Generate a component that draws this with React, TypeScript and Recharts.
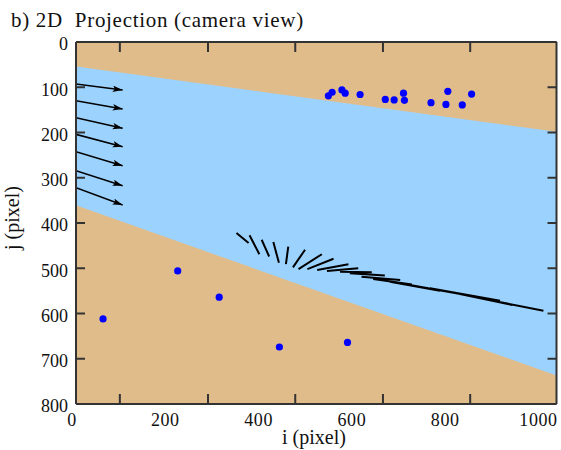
import React from 'react';
import { ComposedChart, XAxis, YAxis, Line, Area, Scatter, CartesianGrid } from 'recharts';

const FONT = '"Liberation Serif", "Times New Roman", Times, serif';
const TAN = '#E1BC8B';
const SKY = '#9CD3FE';
const DOT = '#0000FF';
const AXIS = '#333333';

// axes
const xDomain = [0, 1030];
const yDomain = [0, 800];
const xTickLabels = [0, 200, 400, 600, 800, 1000];
const xTickMarks = [94, 283, 470, 658, 845];
const yTickLabels = [0, 100, 200, 300, 400, 500, 600, 700, 800];

// visible band (camera field)
const bandI = [0, 1030];
const bandTopJ = [54, 198.5];
const bandBottomJ = [361, 737];

// arrows on the left
const arrowStartI = [0, 0, 0, 0, 0, 0, 0];
const arrowEndI = [100, 100, 100, 100, 100, 100, 100];
const arrowStartJ = [92.8, 129.7, 167.3, 204, 242.4, 284.4, 322];
const arrowEndJ = [106.1, 148.1, 190.7, 231.3, 273.4, 317.6, 360.2];

// fan of projected segments
const segStartI = [344, 372, 398, 423, 455, 491, 527, 552, 584, 605, 634, 662, 695, 720, 780, 845, 909, 935, 1002];
const segStartJ = [422, 427, 437, 442, 452, 459, 469, 479, 491, 500, 509, 516, 526, 536, 550, 561, 572, 581, 594];
const segEndI = [370, 393, 414, 435, 450, 465, 477, 496, 517, 538, 566, 587, 612, 637, 673, 716, 759, 823, 866];
const segEndJ = [444, 469, 474, 488, 491, 498, 502, 502, 504, 506, 508, 511, 519, 524, 530, 537, 544, 557, 566];

// blue points
const dotI = [541, 549, 570, 577, 609, 663, 682, 702, 704, 761, 793, 797, 828, 848, 58, 218, 307, 436, 582];
const dotJ = [119, 111, 106, 113, 116, 127, 128, 113, 129, 134, 138, 109, 139, 115, 612, 506, 564, 674, 664];

const bandData = bandI.map((i, k) => ({ i, band: [bandTopJ[k], bandBottomJ[k]] }));
const arrowData = arrowStartJ.map((s, k) => [
  { i: arrowStartI[k], j: s },
  { i: arrowEndI[k], j: arrowEndJ[k] },
]);
const segData: { i: number; j: number | null }[] = [];
segStartI.forEach((s, k) => {
  segData.push({ i: s, j: segStartJ[k] });
  segData.push({ i: segEndI[k], j: segEndJ[k] });
  segData.push({ i: segEndI[k], j: null });
});
const dotData = dotI.map((i, k) => ({ i, j: dotJ[k] }));

const XTick = (props: any) => {
  const { x, y, payload } = props;
  return (
    <text x={x - 4} y={y} dy="0.71em" textAnchor="middle" fontFamily={FONT} fontSize={18} fill="#111" letterSpacing={0.6}>
      {payload.value}
    </text>
  );
};

const YTick = (props: any) => {
  const { x, y, payload } = props;
  return (
    <text x={x} y={y + 2} dy="0.355em" textAnchor="end" fontFamily={FONT} fontSize={18} fill="#111">
      {payload.value}
    </text>
  );
};

const NoTick = () => <g />;

const DotShape = (props: any) => <circle cx={props.cx} cy={props.cy} r={3.6} fill={DOT} />;

const markLine = { stroke: AXIS, strokeWidth: 2 };

export default function App() {
  return (
    <div style={{ position: 'absolute', left: 0, top: 0, width: 561, height: 450 }}>
      <ComposedChart width={561} height={450} margin={{ top: 42, right: 4.5, bottom: 0, left: 0 }}>
        <CartesianGrid fill={TAN} horizontal={false} vertical={false} stroke="none" />
        <Area
          data={bandData}
          dataKey="band"
          type="linear"
          fill={SKY}
          fillOpacity={1}
          stroke="none"
          isAnimationActive={false}
          activeDot={false}
        />
        {arrowData.map((d, k) => (
          <Line
            key={'arrow' + k}
            data={d}
            dataKey="j"
            type="linear"
            stroke="#000"
            strokeWidth={1.6}
            dot={false}
            activeDot={false}
            markerEnd="url(#arrowhead)"
            isAnimationActive={false}
          />
        ))}
        <Line
          data={segData}
          dataKey="j"
          type="linear"
          stroke="#000"
          strokeWidth={2}
          dot={false}
          activeDot={false}
          connectNulls={false}
          isAnimationActive={false}
        />
        <Scatter data={dotData} dataKey="j" shape={DotShape} isAnimationActive={false} />
        {/* invisible carriers so the frame/tick-mark axes are drawn */}
        <Line
          xAxisId="topMarks"
          yAxisId="leftMarks"
          data={dotData}
          dataKey="j"
          stroke="none"
          dot={false}
          activeDot={false}
          legendType="none"
          isAnimationActive={false}
        />
        <Line
          xAxisId="bottomMarks"
          yAxisId="rightMarks"
          data={dotData}
          dataKey="j"
          stroke="none"
          dot={false}
          activeDot={false}
          legendType="none"
          isAnimationActive={false}
        />

        <XAxis
          type="number"
          dataKey="i"
          domain={xDomain}
          ticks={xTickLabels}
          allowDataOverflow
          height={46}
          tickLine={false}
          tickSize={0}
          tickMargin={9}
          tick={XTick}
          axisLine={markLine}
        />
        <XAxis
          xAxisId="bottomMarks"
          type="number"
          dataKey="i"
          orientation="bottom"
          mirror
          height={1}
          domain={xDomain}
          ticks={xTickMarks}
          allowDataOverflow
          tick={NoTick}
          tickSize={10}
          tickLine={markLine}
          axisLine={false}
        />
        <XAxis
          xAxisId="topMarks"
          type="number"
          dataKey="i"
          orientation="top"
          mirror
          height={1}
          domain={xDomain}
          ticks={xTickMarks}
          allowDataOverflow
          tick={NoTick}
          tickSize={10}
          tickLine={markLine}
          axisLine={markLine}
        />
        <YAxis
          type="number"
          reversed
          domain={yDomain}
          ticks={yTickLabels}
          allowDataOverflow
          width={76}
          tickLine={false}
          tickSize={0}
          tickMargin={8}
          tick={YTick}
          axisLine={markLine}
        />
        <YAxis
          yAxisId="leftMarks"
          type="number"
          orientation="left"
          mirror
          width={1}
          reversed
          domain={yDomain}
          ticks={yTickLabels}
          allowDataOverflow
          tick={NoTick}
          tickSize={9}
          tickLine={markLine}
          axisLine={false}
        />
        <YAxis
          yAxisId="rightMarks"
          type="number"
          orientation="right"
          mirror
          width={1}
          reversed
          domain={yDomain}
          ticks={yTickLabels}
          allowDataOverflow
          tick={NoTick}
          tickSize={9}
          tickLine={markLine}
          axisLine={markLine}
        />
      </ComposedChart>
      <svg
        width={561}
        height={450}
        style={{ position: 'absolute', left: 0, top: 0, pointerEvents: 'none' }}
      >
        <defs>
          <marker
            id="arrowhead"
            markerUnits="userSpaceOnUse"
            markerWidth={11}
            markerHeight={8}
            refX={10}
            refY={3.2}
            orient="auto"
          >
            <path d="M0,0 L10,3.2 L0,6.4 L2.2,3.2 Z" fill="#000" />
          </marker>
        </defs>
        <text
          x={11}
          y={27}
          fontFamily={FONT}
          fontSize={21}
          fill="#111"
          letterSpacing={0.7}
          style={{ whiteSpace: 'pre' }}
        >
          {'b) 2D  Projection (camera view)'}
        </text>
        <text x={314} y={444} textAnchor="middle" fontFamily={FONT} fontSize={20} fill="#111">
          i (pixel)
        </text>
        <text
          transform="translate(18.5,218) rotate(-90)"
          textAnchor="middle"
          fontFamily={FONT}
          fontSize={20}
          fill="#111"
        >
          j (pixel)
        </text>
      </svg>
    </div>
  );
}
